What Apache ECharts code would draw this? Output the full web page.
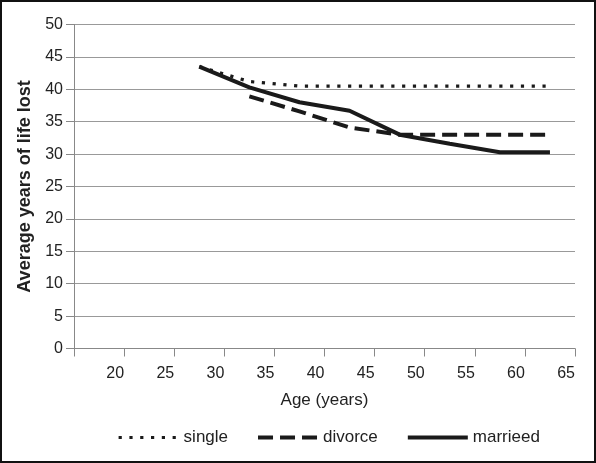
<!DOCTYPE html>
<html><head><meta charset="utf-8">
<script src="https://cdn.jsdelivr.net/npm/echarts@6/dist/echarts.min.js"></script>
<style>html,body{margin:0;padding:0;background:#fff}#c{width:596px;height:463px}</style>
</head><body><div id="c"></div>
<script>
const ages = [27.5, 32.5, 37.5, 42.5, 47.5, 52.5, 57.5, 62.5];
const single = [43.5, 41.2, 40.5, 40.5, 40.5, 40.5, 40.5, 40.5];
const divorce = [null, 38.9, 36.6, 34.1, 33.0, 33.0, 33.0, 33.0];
const married = [43.5, 40.3, 38.0, 36.7, 33.0, 31.6, 30.3, 30.3];
const xTicks = [15, 20, 25, 30, 35, 40, 45, 50, 55, 60, 65];
const yTicks = [0, 5, 10, 15, 20, 25, 30, 35, 40, 45, 50];

const pair = arr => ages.map((a, i) => [a, arr[i]]).filter(p => p[1] !== null);
const FONT = '"Liberation Sans", Arial, sans-serif';
const TXT = '#222';
const INK = '#1a1a1a';
const styles = {
  single: { color: INK, width: 3.2, type: [3.2, 7.6] },
  divorce: { color: INK, width: 4, type: [15, 7] },
  marrieed: { color: INK, width: 4, type: 'solid' }
};
const chart = echarts.init(document.getElementById('c'));
chart.setOption({
  animation: false,
  textStyle: { fontFamily: FONT },
  graphic: [{ type: 'rect', shape: { x: 1, y: 1, width: 594, height: 461 },
    style: { fill: 'none', stroke: '#111', lineWidth: 2 }, z: 100 }],
  grid: { left: 74, right: 21, top: 24.5, bottom: 114.5 },
  legend: {
    left: 112, top: 424, itemWidth: 60, itemHeight: 14, itemGap: 28,
    itemStyle: { opacity: 0 },
    textStyle: { fontSize: 17, color: TXT, fontFamily: FONT },
    data: Object.keys(styles).map(n => ({ name: n, lineStyle: styles[n] }))
  },
  xAxis: {
    type: 'value', min: xTicks[0], max: xTicks[xTicks.length - 1], interval: 5,
    name: 'Age (years)', nameLocation: 'middle', nameGap: 43,
    nameTextStyle: { fontSize: 17, color: TXT, fontFamily: FONT },
    axisLine: { show: true, lineStyle: { color: '#888', width: 1 } },
    axisTick: { show: true, length: 8, lineStyle: { color: '#888' } },
    splitLine: { show: false },
    axisLabel: { fontSize: 16, color: TXT, margin: 17, align: 'right',
      formatter: v => (v === xTicks[0] ? '' : String(v)) }
  },
  yAxis: {
    type: 'value', min: yTicks[0], max: yTicks[yTicks.length - 1], interval: 5,
    name: 'Average years of life lost', nameLocation: 'middle', nameGap: 34,
    nameTextStyle: { fontSize: 18, fontWeight: 'bold', color: TXT, fontFamily: FONT },
    axisLine: { show: true, lineStyle: { color: '#888', width: 1 } },
    axisTick: { show: true, length: 8, lineStyle: { color: '#888' } },
    splitLine: { show: true, lineStyle: { color: '#999', width: 1 } },
    axisLabel: { fontSize: 16, color: TXT, margin: 11 }
  },
  series: [
    { name: 'single', type: 'line', data: pair(single), symbol: 'none',
      lineStyle: styles.single, itemStyle: { color: INK } },
    { name: 'divorce', type: 'line', data: pair(divorce), symbol: 'none',
      lineStyle: styles.divorce, itemStyle: { color: INK } },
    { name: 'marrieed', type: 'line', data: pair(married), symbol: 'none',
      lineStyle: styles.marrieed, itemStyle: { color: INK } }
  ]
});
</script></body></html>
